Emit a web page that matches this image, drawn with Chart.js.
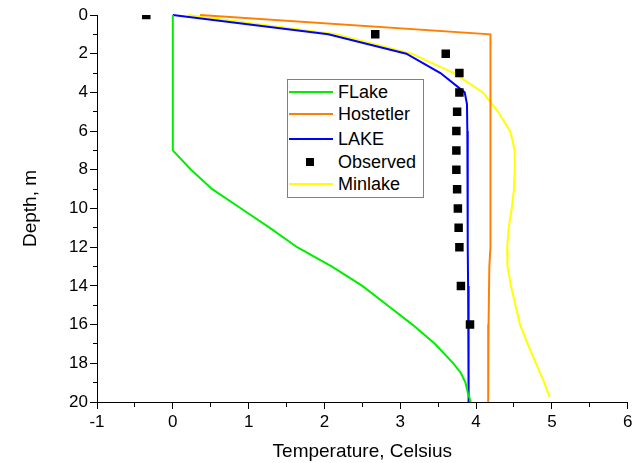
<!DOCTYPE html>
<html>
<head>
<meta charset="utf-8">
<script src="https://cdn.jsdelivr.net/npm/chart.js@4/dist/chart.umd.min.js"></script>
<style>
html,body{margin:0;padding:0;background:#fff;}
#wrap{position:relative;width:639px;height:463px;}
#legend{position:absolute;left:287px;top:79px;width:135px;height:117px;border:1px solid #808080;background:#fff;font-family:'Liberation Sans',Arial,sans-serif;font-size:18px;color:#000;}
.row{position:absolute;left:0;width:135px;height:22px;}
.sample{position:absolute;left:1px;top:10px;width:44px;height:2px;}
.sq{position:absolute;left:18px;top:7px;width:8px;height:8px;background:#000;}
.lbl{position:absolute;left:50px;top:0;line-height:22px;white-space:nowrap;}
</style>
</head>
<body>
<div id="wrap">
<canvas id="c" width="639" height="463"></canvas>
<div id="legend"></div>
</div>
<script>
// ---- data (depth in m, temperature in Celsius) ----
const flakeDepth = [0, 7, 8, 9, 10, 11, 12, 13, 14, 15, 16, 17, 18, 18.5, 19, 19.5, 20];
const flakeTemp  = [0, 0, 0.24, 0.52, 0.9, 1.28, 1.64, 2.1, 2.5, 2.83, 3.16, 3.46, 3.7, 3.8, 3.86, 3.89, 3.93];

const hostDepth = [0, 1, 12, 13, 16, 20];
const hostTemp  = [0.36, 4.19, 4.19, 4.175, 4.165, 4.16];

const lakeDepth = [0, 1, 2, 3, 4, 4.6, 6, 8, 10, 12, 14, 16, 18, 20];
const lakeTemp  = [0, 2.05, 3.08, 3.53, 3.85, 3.88, 3.885, 3.89, 3.89, 3.89, 3.895, 3.9, 3.9, 3.905];

const obsDepth = [0, 1, 2, 3, 4, 5, 6, 7, 8, 9, 10, 11, 12, 14, 16];
const obsTemp  = [-0.35, 2.67, 3.6, 3.78, 3.78, 3.75, 3.74, 3.74, 3.74, 3.75, 3.76, 3.77, 3.78, 3.8, 3.92];

const minDepth = [0, 1, 2, 3, 4, 4.5, 5, 6, 7, 8, 9, 10, 11, 12, 13, 14, 15, 16, 17, 18, 19, 19.75];
const minTemp  = [0.2, 2.15, 3.15, 3.71, 4.09, 4.19, 4.29, 4.45, 4.51, 4.51, 4.5, 4.47, 4.43, 4.41, 4.415, 4.46, 4.52, 4.58, 4.68, 4.79, 4.9, 4.97];

const seriesNames = ['FLake', 'Hostetler', 'LAKE', 'Observed', 'Minlake'];
const xTickMin = -1, xTickMax = 6, yTickMin = 0, yTickMax = 20;

// ---- build ----
const FONT = "'Liberation Sans', Arial, sans-serif";
const pts = (xs, ys) => xs.map((x, i) => ({x: x, y: ys[i]}));
const isMinor = v => Math.abs(v - Math.round(v)) > 1e-6;
const MAJOR = 7, MINOR = 4;

const lineDs = (label, d, t, color) => ({
  label: label, data: pts(t, d), showLine: true, borderColor: color, backgroundColor: color,
  borderWidth: 2, pointRadius: 0, tension: 0, clip: 2
});

const datasets = [
  lineDs(seriesNames[0], flakeDepth, flakeTemp, '#00ee00'),
  lineDs(seriesNames[1], hostDepth, hostTemp, '#ff8000'),
  lineDs(seriesNames[2], lakeDepth, lakeTemp, '#0000ff'),
  {label: seriesNames[3], data: pts(obsTemp, obsDepth), showLine: false, pointStyle: 'rect',
   pointRadius: 6, pointBorderWidth: 0, backgroundColor: '#000', borderColor: '#000', clip: 0},
  lineDs(seriesNames[4], minDepth, minTemp, '#ffff00')
];
datasets[4].order = 2; datasets[2].order = 1; datasets[0].order = 1; datasets[1].order = 1; datasets[3].order = 0;

new Chart(document.getElementById('c'), {
  type: 'scatter',
  data: {datasets: datasets},
  options: {
    responsive: false, animation: false, devicePixelRatio: 1,
    layout: {padding: {top: 15, right: 11.3, left: 0, bottom: 0}},
    plugins: {legend: {display: false}, tooltip: {enabled: false}},
    scales: {
      x: {
        type: 'linear', min: xTickMin, max: xTickMax,
        ticks: {stepSize: 0.5, autoSkip: false, maxRotation: 0, color: '#000', padding: 3,
                font: {size: 17, family: FONT}, callback: v => isMinor(v) ? '' : String(v)},
        grid: {drawOnChartArea: false, drawTicks: true, tickLength: MAJOR, tickColor: '#000', tickWidth: 1,
               tickBorderDash: c => isMinor(c.tick.value) ? [MINOR, 100] : []},
        border: {display: true, color: '#000', width: 1},
        title: {display: true, text: 'Temperature, Celsius', color: '#000', font: {size: 19, family: FONT}, padding: {top: 0, bottom: 0}},
        afterFit: s => { s.height = 61; }
      },
      y: {
        type: 'linear', min: yTickMin, max: yTickMax, reverse: true,
        ticks: {stepSize: 1, autoSkip: false, color: '#000', padding: 2,
                font: {size: 17, family: FONT}, callback: v => (v % 2 === 0) ? String(v) : ''},
        grid: {drawOnChartArea: false, drawTicks: true, tickLength: MAJOR, tickColor: '#000', tickWidth: 1,
               tickBorderDash: c => (c.tick.value % 2 !== 0) ? [0, MAJOR - MINOR, MINOR, 100] : []},
        border: {display: true, color: '#000', width: 1},
        title: {display: true, text: 'Depth, m', color: '#000', font: {size: 19, family: FONT}, padding: {top: 19, bottom: 0}},
        afterFit: s => { s.width = 97; }
      }
    }
  }
});

// ---- HTML legend ----
const leg = document.getElementById('legend');
const rowTops = [0.7, 23.3, 47.7, 70.7, 93.3];
datasets.forEach((ds, i) => {
  const r = document.createElement('div');
  r.className = 'row';
  r.style.top = rowTops[i] + 'px';
  if (ds.showLine) {
    const s = document.createElement('div'); s.className = 'sample'; s.style.background = ds.borderColor; r.appendChild(s);
  } else {
    const s = document.createElement('div'); s.className = 'sq'; r.appendChild(s);
  }
  const t = document.createElement('div'); t.className = 'lbl'; t.textContent = ds.label; r.appendChild(t);
  leg.appendChild(r);
});
</script>
</body>
</html>
